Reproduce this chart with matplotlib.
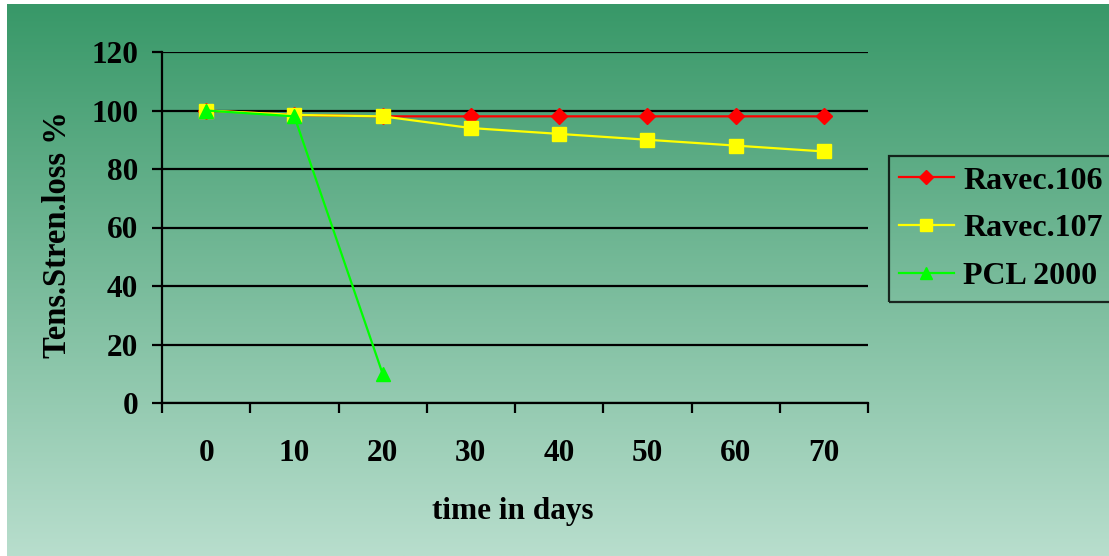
import numpy as np
import matplotlib
matplotlib.use("Agg")
import matplotlib.pyplot as plt

days = ["0", "10", "20", "30", "40", "50", "60", "70"]
ravec106 = [100, 98.5, 98, 98, 98, 98, 98, 98]
ravec107 = [100, 98.5, 98, 94, 92, 90, 88, 86]
pcl2000 = [100, 98, 10]
y_ticks = [0, 20, 40, 60, 80, 100, 120]

W, H = 1109, 556
plt.rcParams['font.family'] = ['Liberation Serif', 'DejaVu Serif']
plt.rcParams['font.weight'] = 'bold'

fig = plt.figure(figsize=(W / 100, H / 100), dpi=100)
fig.patch.set_facecolor('white')

# gradient background
bg = fig.add_axes([7 / W, 0, 1 - 7 / W, 1 - 4 / H], zorder=-10)
top = np.array([56, 152, 104]) / 255
bot = np.array([184, 222, 205]) / 255
t = np.linspace(0, 1, 256)[:, None]
grad = top[None, :] * (1 - t) + bot[None, :] * t
grad = np.repeat(grad[:, None, :], 2, axis=1)
bg.imshow(grad, aspect='auto', extent=[0, 1, 0, 1])
bg.set_axis_off()

ax = fig.add_axes([162 / W, 1 - 403 / H, (868 - 162) / W, (403 - 52) / H])
ax.set_facecolor('none')

x = np.arange(len(days)) + 0.5
ax.plot(x, ravec106, color='#ff0000', lw=1.6, marker='D', markersize=8,
        markeredgecolor='#ff0000', label='Ravec.106', zorder=3)
ax.plot(x, ravec107, color='#ffff00', lw=1.6, marker='s', markersize=10,
        markeredgecolor='#ffff00', label='Ravec.107', zorder=4)
ax.plot(x[:len(pcl2000)], pcl2000, color='#00ff00', lw=1.6, marker='^', markersize=10,
        markeredgecolor='#00ff00', label='PCL 2000', zorder=5)

ax.set_xlim(0, len(days))
ax.set_ylim(0, 120)
ax.set_yticks(y_ticks)
ax.set_yticklabels([str(v) for v in y_ticks])
ax.yaxis.grid(True, color='black', lw=1.6)
ax.set_axisbelow(True)

ax.set_xticks(np.arange(len(days) + 1))
ax.set_xticklabels([])
ax.set_xticks(x, minor=True)
ax.set_xticklabels(days, minor=True)
ax.tick_params(axis='x', which='major', direction='out', length=7, width=1.6, color='black')
ax.tick_params(axis='x', which='minor', length=0, pad=26, labelsize=22.5)
ax.tick_params(axis='y', direction='out', length=7, width=1.6, pad=10, labelsize=22.5)

for s in ['top', 'right']:
    ax.spines[s].set_visible(False)
ax.spines['left'].set_linewidth(1.6)
ax.spines['bottom'].set_linewidth(1.6)

fig.text(58 / W, 1 - 235 / H, 'Tens.Stren.loss %', rotation=90, ha='center', va='center',
         fontsize=23.5, fontweight='bold')
fig.text(513 / W, 1 - 519 / H, 'time in days', ha='center', va='baseline',
         fontsize=22.5, fontweight='bold')

leg = fig.legend(loc='upper left', bbox_to_anchor=(889 / W, 1 - 156 / H), borderaxespad=0,
                 frameon=True, fancybox=False, edgecolor='black', facecolor='none',
                 handlelength=1.7, handletextpad=0.3, borderpad=0.32,
                 labelspacing=0.58, prop={'weight': 'bold', 'size': 23})
leg.get_frame().set_linewidth(1.6)
for h, ms in zip(leg.legend_handles, [7, 9, 9]):
    h.set_markersize(ms)

fig.savefig('out.png', dpi=100)
